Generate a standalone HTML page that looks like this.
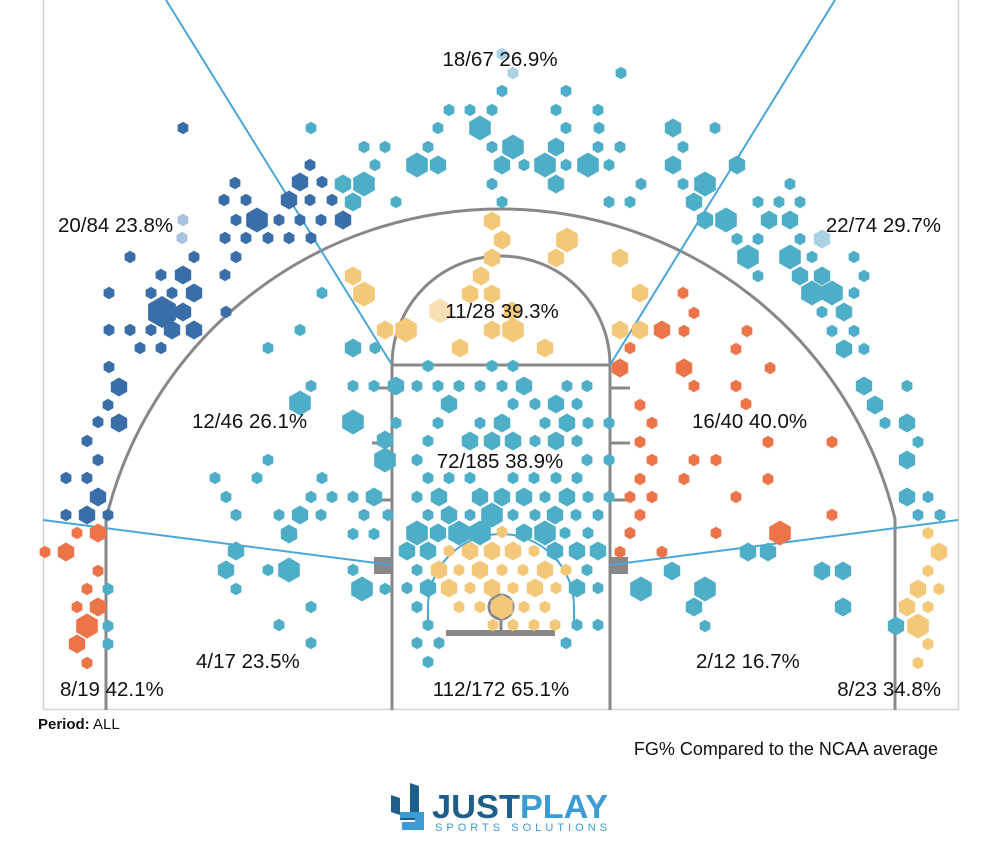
<!DOCTYPE html>
<html><head><meta charset="utf-8"><style>
html,body{margin:0;padding:0;background:#fff;width:1000px;height:857px;overflow:hidden}
svg{position:absolute;left:0;top:0}
text{font-family:"Liberation Sans",Arial,sans-serif}
</style></head><body>
<svg id="s" width="1000" height="857" xmlns="http://www.w3.org/2000/svg">
<rect x="43.5" y="-1" width="915" height="710.5" fill="none" stroke="#d4d4d4" stroke-width="1.5"/>
<g fill="none" stroke="#888" stroke-width="3">
<line x1="392" y1="365" x2="392" y2="710"/>
<line x1="610" y1="365" x2="610" y2="710"/>
<line x1="392" y1="365" x2="610" y2="365"/>
<path d="M392 365 A109 109 0 0 1 610 365"/>
<path d="M106 710 L106 519 A406 406 0 0 1 895 519 L895 710"/>
<circle cx="501" cy="607" r="12"/>
<line x1="501" y1="619" x2="501" y2="631"/>
<line x1="372" y1="388" x2="392" y2="388"/><line x1="372" y1="443" x2="392" y2="443"/><line x1="372" y1="500" x2="392" y2="500"/>
<line x1="610" y1="388" x2="630" y2="388"/><line x1="610" y1="443" x2="630" y2="443"/><line x1="610" y1="500" x2="630" y2="500"/>
</g>
<rect x="446" y="630" width="109" height="6" fill="#888"/>
<rect x="374" y="557" width="18" height="17" fill="#888"/>
<rect x="610" y="557" width="18" height="17" fill="#888"/>
<g fill="none" stroke="#4aa6d6" stroke-width="2">
<line x1="166" y1="0" x2="392" y2="365"/>
<line x1="835" y1="0" x2="610" y2="365"/>
<line x1="43" y1="520" x2="392" y2="565"/>
<line x1="958" y1="520" x2="610" y2="565"/>
<path d="M428 625 L428 607 A73 73 0 0 1 574 607 L574 625"/>
</g>
<g id="h"></g>
<g font-size="20.5" fill="#111">
<text x="500" y="66" text-anchor="middle">18/67 26.9%</text>
<text x="58" y="232">20/84 23.8%</text>
<text x="941" y="232" text-anchor="end">22/74 29.7%</text>
<text x="502" y="318" text-anchor="middle">11/28 39.3%</text>
<text x="192" y="428">12/46 26.1%</text>
<text x="692" y="428">16/40 40.0%</text>
<text x="500" y="468" text-anchor="middle">72/185 38.9%</text>
<text x="196" y="668">4/17 23.5%</text>
<text x="696" y="668">2/12 16.7%</text>
<text x="60" y="696">8/19 42.1%</text>
<text x="501" y="696" text-anchor="middle">112/172 65.1%</text>
<text x="941" y="696" text-anchor="end">8/23 34.8%</text>
</g>
<text x="38" y="729" font-size="15" fill="#111"><tspan font-weight="bold">Period:</tspan> ALL</text>
<text x="938" y="755" font-size="18" fill="#111" text-anchor="end">FG% Compared to the NCAA average</text>
<g>
<path d="M391 795 L400 798 L400 812 L410 812 L410 783 L419 786 L419 820 L400 820 L400 815 L391 812 Z" fill="#1d5e8a"/>
<path d="M400 812 L424 812 L424 830 L402 830 L402 822 L415 822 L415 818 L400 818 Z" fill="#3d9bd3"/>
<text x="432" y="818" font-size="33" font-weight="bold" fill="#1d5e8a" textLength="88" lengthAdjust="spacingAndGlyphs">JUST</text>
<text x="520" y="818" font-size="33" font-weight="bold" fill="#3d9bd3" textLength="88" lengthAdjust="spacingAndGlyphs">PLAY</text>
<text x="435" y="831" font-size="11" fill="#3d9bd3" textLength="172" lengthAdjust="spacing">SPORTS SOLUTIONS</text>
</g>
</svg>
<script>
var C={b:"#3a6ea8",t:"#4eaec8",o:"#eb7448",y:"#f4c879",p:"#f8e0b3",l:"#a9d2e2",w:"#a9c3de"};
var R={s:6.2,m:9.5,l:12.5,x:16};
var D=[
"b",[[183,128,"s"],[310,165,"s"],[300,182,"m"],[322,182,"s"],[235,183,"s"],[224,200,"s"],[246,200,"s"],[289,200,"m"],[310,200,"s"],[332,200,"s"],[236,220,"s"],[257,220,"l"],[279,220,"s"],[300,220,"s"],[321,220,"s"],[343,220,"m"],[225,238,"s"],[246,238,"s"],[268,238,"s"],[289,238,"s"],[311,238,"s"],[130,257,"s"],[194,257,"s"],[236,257,"s"],[161,275,"s"],[183,275,"m"],[225,275,"s"],[109,293,"s"],[151,293,"s"],[172,293,"s"],[194,293,"m"],[162,312,"x"],[183,312,"m"],[226,312,"s"],[109,330,"s"],[130,330,"s"],[151,330,"s"],[172,330,"m"],[194,330,"m"],[140,348,"s"],[161,348,"s"],[109,367,"s"],[119,387,"m"],[108,405,"s"],[98,422,"s"],[119,423,"m"],[87,441,"s"],[98,460,"s"],[66,478,"s"],[87,478,"s"],[98,497,"m"],[66,515,"s"],[87,515,"m"],[108,515,"s"]],
"w",[[183,220,"s"],[182,238,"s"]],
"l",[[502,54,"s"],[513,73,"s"],[822,239,"m"]],
"t",[[621,73,"s"],[502,91,"s"],[566,91,"s"],[449,110,"s"],[470,110,"s"],[492,110,"s"],[556,110,"s"],[598,110,"s"],[438,128,"s"],[480,128,"l"],[566,128,"s"],[599,128,"s"],[311,128,"s"],[364,147,"s"],[385,147,"s"],[428,147,"s"],[492,147,"s"],[513,147,"l"],[556,147,"m"],[598,147,"s"],[620,147,"s"],[375,165,"s"],[417,165,"l"],[438,165,"m"],[502,165,"m"],[524,165,"s"],[545,165,"l"],[566,165,"s"],[588,165,"l"],[609,165,"s"],[343,184,"m"],[364,184,"l"],[492,184,"s"],[556,184,"m"],[641,184,"s"],[353,202,"m"],[396,202,"s"],[502,202,"s"],[609,202,"s"],[630,202,"s"],
[673,128,"m"],[715,128,"s"],[683,147,"s"],[673,165,"m"],[737,165,"m"],[683,184,"s"],[705,184,"l"],[694,202,"m"],[790,184,"s"],[758,202,"s"],[779,202,"s"],[800,202,"s"],[705,220,"m"],[726,220,"l"],[769,220,"m"],[790,220,"m"],[737,239,"s"],[758,239,"s"],[800,239,"s"],[748,257,"l"],[790,257,"l"],[812,257,"s"],[854,257,"s"],[758,276,"s"],[800,276,"m"],[822,276,"m"],[864,276,"s"],[812,293,"l"],[832,293,"l"],[854,293,"s"],[844,312,"m"],[822,312,"s"],[832,331,"s"],[854,331,"s"],[844,349,"m"],[864,349,"s"],[864,386,"m"],[907,386,"s"],[875,405,"m"],[885,423,"s"],[907,423,"m"],[918,442,"s"],[907,460,"m"],[907,497,"m"],[928,497,"s"],[918,515,"s"],[940,515,"s"],
[748,552,"m"],[768,552,"m"],[672,571,"m"],[641,589,"l"],[705,589,"l"],[694,607,"m"],[705,626,"s"],[822,571,"m"],[843,571,"m"],[843,607,"m"],[896,626,"m"],
[322,293,"s"],[300,330,"s"],[268,348,"s"],[353,348,"m"],[375,348,"s"],[311,386,"s"],[353,386,"s"],[374,386,"s"],[300,403,"l"],[353,422,"l"],[385,440,"m"],[268,460,"s"],[215,478,"s"],[257,478,"s"],[322,478,"s"],[226,497,"s"],[311,497,"s"],[332,497,"s"],[353,497,"s"],[374,497,"m"],[236,515,"s"],[279,515,"s"],[300,515,"m"],[321,515,"s"],[364,515,"s"],[388,515,"s"],[289,534,"m"],[353,534,"s"],[374,534,"s"],[236,551,"m"],[226,570,"m"],[268,570,"s"],[289,570,"l"],[353,570,"s"],[236,589,"s"],[362,589,"l"],[385,589,"s"],[311,607,"s"],[279,625,"s"],[311,643,"s"],[108,589,"s"],[108,626,"s"],[108,644,"s"],
[428,366,"s"],[492,366,"s"],[513,366,"s"],
[396,386,"m"],[417,386,"s"],[438,386,"s"],[459,386,"s"],[480,386,"s"],[502,386,"s"],[524,386,"m"],[567,386,"s"],[587,386,"s"],
[449,404,"m"],[513,404,"s"],[535,404,"s"],[556,404,"m"],[577,404,"s"],
[396,423,"s"],[438,423,"s"],[480,423,"s"],[502,423,"m"],[545,423,"s"],[567,423,"m"],[588,423,"s"],[609,423,"s"],
[428,441,"s"],[470,441,"m"],[492,441,"m"],[513,441,"m"],[535,441,"s"],[556,441,"m"],[577,441,"s"],[385,460,"l"],
[417,460,"s"],[587,460,"s"],[609,460,"s"],
[428,478,"s"],[449,478,"s"],[470,478,"s"],[513,478,"s"],[534,478,"s"],[556,478,"s"],[577,478,"s"],
[417,497,"s"],[439,497,"m"],[480,497,"m"],[502,497,"m"],[524,497,"m"],[545,497,"s"],[567,497,"m"],[588,497,"s"],[609,497,"s"],
[428,515,"s"],[449,515,"m"],[470,515,"s"],[492,515,"l"],[513,515,"s"],[535,515,"s"],[555,515,"m"],[576,515,"s"],[598,515,"s"],
[417,533,"l"],[438,533,"m"],[459,533,"l"],[480,533,"l"],[524,533,"m"],[545,533,"l"],[565,533,"s"],[588,533,"s"],
[407,551,"m"],[428,551,"m"],[555,551,"m"],[577,551,"m"],[598,551,"m"],
[417,570,"s"],[587,570,"s"],[407,588,"s"],[428,588,"m"],[577,588,"m"],[598,588,"s"],
[417,607,"s"],[428,625,"s"],[577,625,"s"],[598,625,"s"],[417,643,"s"],[439,643,"s"],[566,643,"s"],[428,662,"s"]],
"y",[[492,221,"m"],[502,240,"m"],[567,240,"l"],[492,258,"m"],[556,258,"m"],[620,258,"m"],[353,276,"m"],[481,276,"m"],[364,294,"l"],[470,294,"m"],[492,294,"m"],[512,311,"m"],[385,330,"m"],[406,330,"l"],[492,330,"m"],[513,330,"l"],[620,330,"m"],[640,330,"m"],[460,348,"m"],[545,348,"m"],[640,293,"m"],
[502,532,"s"],[449,551,"s"],[470,551,"m"],[492,551,"m"],[513,551,"m"],[534,551,"s"],
[439,570,"m"],[459,570,"s"],[480,570,"m"],[502,570,"s"],[523,570,"s"],[545,570,"m"],[566,570,"s"],
[449,588,"m"],[470,588,"s"],[492,588,"m"],[513,588,"s"],[535,588,"m"],[556,588,"s"],
[459,607,"s"],[480,607,"s"],[502,607,"l"],[524,607,"s"],[545,607,"s"],[493,625,"s"],[513,625,"s"],[534,625,"s"],[555,625,"s"],
[928,533,"s"],[939,552,"m"],[928,571,"s"],[918,589,"m"],[939,589,"s"],[907,607,"m"],[928,607,"s"],[918,626,"l"],[928,644,"s"],[918,663,"s"]],
"p",[[440,311,"l"]],
"o",[[662,330,"m"],[630,348,"s"],[683,293,"s"],[694,313,"s"],[684,331,"s"],[620,368,"m"],[684,368,"m"],[747,331,"s"],[736,349,"s"],[770,368,"s"],[694,386,"s"],[736,386,"s"],[640,405,"s"],[652,423,"s"],[746,404,"s"],[640,442,"s"],[768,442,"s"],[832,442,"s"],[652,460,"s"],[694,460,"s"],[716,460,"s"],[640,479,"s"],[684,479,"s"],[768,479,"s"],[630,497,"s"],[652,497,"s"],[736,497,"s"],[640,515,"s"],[832,515,"s"],[630,533,"s"],[716,533,"s"],[780,533,"l"],[620,552,"s"],[662,552,"s"],
[77,533,"s"],[98,533,"m"],[45,552,"s"],[66,552,"m"],[98,571,"s"],[87,589,"s"],[77,607,"s"],[98,607,"m"],[87,626,"l"],[77,644,"m"],[87,663,"s"]]
];
var g=document.getElementById("h"),o="";
for(var i=0;i<D.length;i+=2){var c=C[D[i]],a=D[i+1];for(var j=0;j<a.length;j++){var x=a[j][0],y=a[j][1],r=R[a[j][2]],p=[];for(var k=0;k<6;k++){var an=Math.PI/180*(60*k-90);p.push((x+r*Math.cos(an)).toFixed(1)+","+(y+r*Math.sin(an)).toFixed(1));}o+='<polygon points="'+p.join(" ")+'" fill="'+c+'"/>';}}
g.innerHTML=o;
</script>
</body></html>
